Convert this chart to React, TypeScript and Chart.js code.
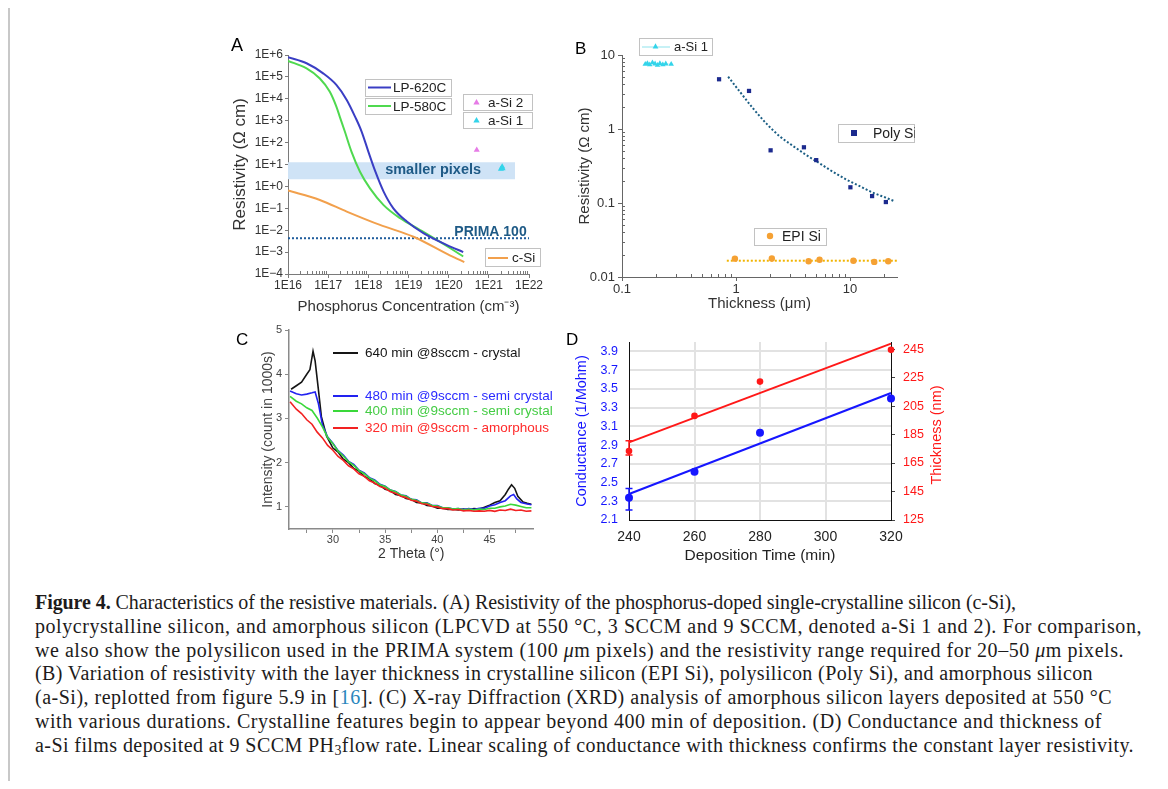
import React, { useEffect, useLayoutEffect, useRef } from 'react';
import { Chart, registerables } from 'chart.js';

Chart.register(...registerables);

const SANS = "'Liberation Sans', Arial, Helvetica, sans-serif";
const SERIF = "'Liberation Serif', 'Times New Roman', serif";
Chart.defaults.font.family = SANS;

// ---------------- Panel A : resistivity vs phosphorus concentration ----------------
const A_X_TICKS = [1e16, 1e17, 1e18, 1e19, 1e20, 1e21, 1e22];
const A_X_LABELS = ['1E16', '1E17', '1E18', '1E19', '1E20', '1E21', '1E22'];
const A_Y_TICKS = [1e-4, 1e-3, 1e-2, 1e-1, 1e0, 1e1, 1e2, 1e3, 1e4, 1e5, 1e6];
const A_Y_LABELS = ['1E\u22124', '1E\u22123', '1E\u22122', '1E\u22121', '1E+0', '1E+1', '1E+2', '1E+3', '1E+4', '1E+5', '1E+6'];
const LP620_CONC = [1.0e16, 2.9e16, 7.5e16, 1.6e17, 2.9e17, 4.7e17, 6.8e17, 1.0e18, 1.5e18, 2.4e18, 4.2e18, 9.1e18, 2.4e19, 9.1e19, 2.3e20];
const LP620_RES = [7.9e5, 4.2e5, 1.45e5, 4.3e4, 8.9e3, 1.5e3, 3.2e2, 39, 4.7, 0.58, 0.1, 0.025, 7.2e-3, 2.1e-3, 1.0e-3];
const LP580_CONC = [1.0e16, 2.9e16, 6.2e16, 1.1e17, 1.6e17, 1.95e17, 2.6e17, 3.8e17, 6.2e17, 1.1e18, 2.4e18, 6.2e18, 1.95e19, 1.1e20, 2.3e20];
const LP580_RES = [5.4e5, 2.45e5, 8.5e4, 2.1e4, 4.4e3, 1.5e3, 3.2e2, 39, 4.7, 0.81, 0.14, 0.035, 0.0102, 1.5e-3, 6.3e-4];
const CSI_CONC = [1e16, 6.2e16, 2.9e17, 1.95e18, 1.33e19, 1.1e20, 2.45e20];
const CSI_RES = [0.65, 0.24, 0.071, 0.0174, 5.0e-3, 6.9e-4, 3.5e-4];
const ASI2_CONC = [5.0e20];
const ASI2_RES = [46];
const ASI1_CONC = [2.0e21, 2.1e21, 2.15e21, 2.2e21];
const ASI1_RES = [6.2, 7.0, 7.8, 6.6];
const PRIMA_RES = 4.3e-3;
const SMALL_PIX_RANGE = [2.1, 12.6];
const SMALL_PIX_CONC = [1e16, 4.5e21];

// ---------------- Panel B : resistivity vs thickness ----------------
const B_X_TICKS = [0.1, 1, 10];
const B_X_LABELS = ['0.1', '1', '10'];
const B_Y_TICKS = [0.01, 0.1, 1, 10];
const B_Y_LABELS = ['0.01', '0.1', '1', '10'];
const POLY_THICK = [0.71, 1.3, 2.01, 3.94, 5.05, 10.07, 15.6, 20.6];
const POLY_RES = [4.7, 3.27, 0.515, 0.566, 0.38, 0.163, 0.124, 0.103];
const POLY_FIT_THICK = [0.853, 1.08, 1.41, 1.84, 2.41, 3.16, 4.13, 5.4, 7.05, 9.2, 12.05, 15.7, 20.6, 24.4];
const POLY_FIT_RES = [5.09, 3.19, 1.9, 1.19, 0.8, 0.59, 0.445, 0.344, 0.265, 0.209, 0.17, 0.139, 0.118, 0.106];
const EPI_THICK = [0.977, 2.06, 4.33, 5.4, 10.7, 16.3, 21.6];
const EPI_RES = [0.0177, 0.0178, 0.0163, 0.0171, 0.0166, 0.016, 0.0163];
const EPI_FIT_THICK = [0.83, 25.8];
const EPI_FIT_RES = [0.0166, 0.0166];
const ASI1B_THICK = [0.16, 0.167, 0.175, 0.185, 0.195, 0.205, 0.215, 0.228, 0.242, 0.27];
const ASI1B_RES = [7.5, 7.7, 7.4, 7.9, 7.6, 7.3, 7.7, 7.4, 7.6, 7.5];

// ---------------- Panel C : XRD ----------------
const C_X_TICKS = [27.5, 30, 32.5, 35, 37.5, 40, 42.5, 45, 47.5];
const C_Y_TICKS = [1, 2, 3, 4, 5];
const XRD640_THETA = [26.0, 26.5, 27.0, 27.5, 27.8, 28.1, 28.3, 28.6, 28.9, 29.4, 30.0, 30.5, 31.0, 31.5, 32.0, 32.5, 33.0, 33.5, 34.0, 34.5, 35.0, 35.5, 36.0, 36.5, 37.0, 37.5, 38.0, 38.5, 39.0, 39.5, 40.0, 40.5, 41.0, 41.5, 42.0, 42.5, 43.0, 43.5, 44.0, 44.5, 45.0, 45.5, 46.0, 46.5, 46.8, 47.1, 47.4, 47.7, 48.2, 48.6, 49.0];
const XRD640_INT = [3.66, 3.74, 3.82, 4.0, 4.1, 4.52, 4.3, 3.68, 3.04, 2.6, 2.33, 2.24, 2.08, 2.0, 1.87, 1.81, 1.69, 1.64, 1.53, 1.49, 1.4, 1.37, 1.28, 1.26, 1.19, 1.17, 1.1, 1.09, 1.03, 1.02, 0.97, 0.97, 0.94, 0.95, 0.93, 0.95, 0.93, 0.96, 0.95, 0.99, 1.04, 1.1, 1.14, 1.28, 1.4, 1.5, 1.42, 1.24, 1.11, 1.08, 1.06];
const XRD480_THETA = [25.9, 26.5, 27.0, 27.5, 28.0, 28.3, 28.6, 29.0, 29.5, 30.0, 30.5, 31.0, 31.5, 32.0, 32.5, 33.0, 33.5, 34.0, 34.5, 35.0, 35.5, 36.0, 36.5, 37.0, 37.5, 38.0, 38.5, 39.0, 39.5, 40.0, 40.5, 41.0, 41.5, 42.0, 42.5, 43.0, 43.5, 44.0, 44.5, 45.0, 45.5, 46.0, 46.5, 47.0, 47.3, 47.6, 48.0, 48.5, 49.0];
const XRD480_INT = [3.62, 3.56, 3.53, 3.55, 3.58, 3.6, 3.35, 2.85, 2.58, 2.44, 2.27, 2.17, 2.03, 1.96, 1.83, 1.77, 1.66, 1.61, 1.51, 1.47, 1.38, 1.35, 1.27, 1.25, 1.17, 1.16, 1.09, 1.09, 1.03, 1.03, 0.98, 0.98, 0.95, 0.96, 0.94, 0.96, 0.94, 0.97, 0.97, 1.02, 1.05, 1.1, 1.14, 1.25, 1.28, 1.18, 1.1, 1.07, 1.05];
const XRD400_THETA = [25.9, 26.5, 27.0, 27.5, 28.0, 28.5, 29.0, 29.5, 30.0, 30.5, 31.0, 31.5, 32.0, 32.5, 33.0, 33.5, 34.0, 34.5, 35.0, 35.5, 36.0, 36.5, 37.0, 37.5, 38.0, 38.5, 39.0, 39.5, 40.0, 40.5, 41.0, 41.5, 42.0, 42.5, 43.0, 43.5, 44.0, 44.5, 45.0, 45.5, 46.0, 46.5, 47.0, 47.5, 48.0, 48.5, 49.0];
const XRD400_INT = [3.5, 3.39, 3.33, 3.24, 3.18, 3.01, 2.81, 2.57, 2.43, 2.26, 2.15, 2.02, 1.94, 1.82, 1.75, 1.65, 1.59, 1.5, 1.46, 1.38, 1.34, 1.27, 1.24, 1.17, 1.15, 1.09, 1.08, 1.03, 1.02, 0.98, 0.98, 0.95, 0.96, 0.93, 0.95, 0.93, 0.95, 0.94, 0.97, 0.97, 1.0, 1.02, 1.06, 1.04, 1.01, 0.98, 0.98];
const XRD320_THETA = XRD400_THETA;
const XRD320_INT = [3.38, 3.21, 3.11, 2.97, 2.87, 2.69, 2.56, 2.39, 2.28, 2.14, 2.05, 1.93, 1.86, 1.75, 1.69, 1.59, 1.54, 1.46, 1.42, 1.34, 1.31, 1.24, 1.21, 1.15, 1.13, 1.07, 1.06, 1.01, 1.0, 0.96, 0.96, 0.93, 0.94, 0.91, 0.92, 0.9, 0.91, 0.9, 0.92, 0.9, 0.93, 0.92, 0.95, 0.92, 0.93, 0.9, 0.91];

// ---------------- Panel D : conductance / thickness vs deposition time ----------------
const DEP_TIME = [240, 260, 280, 320];
const CONDUCTANCE = [2.337, 2.614, 3.03, 3.396];
const COND_ERR_UP = [0.1, 0, 0, 0];
const COND_ERR_DN = [0.13, 0, 0, 0];
const THICKNESS = [173.4, 198.1, 222.2, 244.5];
const THICK_ERR_UP = [7.2, 0, 0, 0];
const THICK_ERR_DN = [2.8, 0, 0, 0];
const FIT_TIME = [240, 320];
const COND_FIT = [2.377, 3.456];
const THICK_FIT = [179.5, 248.9];
const D_LEFT_TICKS = [2.1, 2.3, 2.5, 2.7, 2.9, 3.1, 3.3, 3.5, 3.7, 3.9];
const D_RIGHT_TICKS = [125, 145, 165, 185, 205, 225, 245];
const D_X_TICKS = [240, 260, 280, 300, 320];

// ---------------- helpers ----------------
const OX = 8;
const OY = 8;
const pts = (xs: number[], ys: number[]) => xs.map((x, i) => ({ x, y: ys[i] }));
const setTicks = (vals: number[]) => (s: any) => { s.ticks = vals.map((v) => ({ value: v })); };
const minorLog = (lo: number, hi: number) => {
  const out: number[] = [];
  for (let e = Math.floor(Math.log10(lo)); e <= Math.ceil(Math.log10(hi)); e++) {
    for (let k = 2; k <= 9; k++) {
      const v = k * Math.pow(10, e);
      if (v > lo && v < hi) out.push(v);
    }
  }
  return out;
};

function drawMinor(chart: any, id: string, values: number[], len: number, color: string) {
  const s = chart.scales[id];
  const ca = chart.chartArea;
  const ctx = chart.ctx;
  ctx.save();
  ctx.strokeStyle = color;
  ctx.lineWidth = 1;
  ctx.beginPath();
  for (const v of values) {
    const p = Math.round(s.getPixelForValue(v)) + 0.5;
    if (s.isHorizontal()) {
      ctx.moveTo(p, ca.bottom);
      ctx.lineTo(p, ca.bottom - len);
    } else {
      ctx.moveTo(ca.left, p);
      ctx.lineTo(ca.left + len, p);
    }
  }
  ctx.stroke();
  ctx.restore();
}

function box(ctx: any, x: number, y: number, w: number, h: number) {
  ctx.fillStyle = '#ffffff';
  ctx.fillRect(x, y, w, h);
  ctx.strokeStyle = '#c2c2c2';
  ctx.lineWidth = 1;
  ctx.strokeRect(Math.round(x) + 0.5, Math.round(y) + 0.5, Math.round(w) - 1, Math.round(h) - 1);
}
function tri(ctx: any, x: number, y: number, r: number, color: string) {
  ctx.fillStyle = color;
  ctx.beginPath();
  ctx.moveTo(x, y - r);
  ctx.lineTo(x + r * 0.9, y + r * 0.6);
  ctx.lineTo(x - r * 0.9, y + r * 0.6);
  ctx.closePath();
  ctx.fill();
}
function seg(ctx: any, x1: number, x2: number, y: number, color: string, w: number) {
  ctx.strokeStyle = color;
  ctx.lineWidth = w;
  ctx.beginPath();
  ctx.moveTo(x1, y);
  ctx.lineTo(x2, y);
  ctx.stroke();
}
function txt(ctx: any, s: string, x: number, y: number, font: string, color: string, align = 'left') {
  ctx.font = font;
  ctx.fillStyle = color;
  ctx.textAlign = align;
  ctx.textBaseline = 'middle';
  ctx.fillText(s, x, y);
}

const baseOptions = {
  responsive: false,
  animation: false,
  events: [],
  plugins: { legend: { display: false }, tooltip: { enabled: false } },
};

// ---------------- configs ----------------
function configA(): any {
  const axisCol = '#7a7a7a';
  return {
    type: 'line',
    data: {
      datasets: [
        { data: pts(SMALL_PIX_CONC, [SMALL_PIX_RANGE[1], SMALL_PIX_RANGE[1]]), borderWidth: 0, pointRadius: 0, fill: { value: SMALL_PIX_RANGE[0] }, backgroundColor: '#cfe3f6', order: 10 },
        { data: pts([1e16, 1e22], [PRIMA_RES, PRIMA_RES]), borderColor: '#1f5c9c', borderWidth: 2, borderDash: [2, 2], pointRadius: 0, order: 6 },
        { data: pts(CSI_CONC, CSI_RES), borderColor: '#f2a04c', borderWidth: 2, pointRadius: 0, cubicInterpolationMode: 'monotone', order: 3 },
        { data: pts(LP580_CONC, LP580_RES), borderColor: '#4fd94f', borderWidth: 2, pointRadius: 0, cubicInterpolationMode: 'monotone', order: 2 },
        { data: pts(LP620_CONC, LP620_RES), borderColor: '#3a3ec4', borderWidth: 2, pointRadius: 0, cubicInterpolationMode: 'monotone', order: 1 },
        { data: pts(ASI2_CONC, ASI2_RES), showLine: false, pointStyle: 'triangle', pointRadius: 3.5, backgroundColor: '#e67be6', borderColor: '#e67be6', borderWidth: 0, order: 0 },
        { data: pts(ASI1_CONC, ASI1_RES), showLine: false, pointStyle: 'triangle', pointRadius: 3.5, backgroundColor: '#33d4ea', borderColor: '#33d4ea', borderWidth: 0, order: 0 },
      ],
    },
    options: {
      ...baseOptions,
      layout: { padding: { top: 20, right: 16, left: 0, bottom: 0 } },
      scales: {
        x: {
          type: 'logarithmic', min: 1e16, max: 1e22,
          afterFit: (s: any) => { s.height = 46; },
          afterBuildTicks: setTicks(A_X_TICKS),
          ticks: { callback: (_v: any, i: number) => A_X_LABELS[i], color: '#333', font: { size: 12 }, padding: 0, maxRotation: 0, autoSkip: false },
          grid: { drawOnChartArea: false, tickLength: 4, color: axisCol },
          border: { color: axisCol },
          title: { display: true, text: 'Phosphorus Concentration (cm\u207B\u00B3)', font: { size: 15 }, color: '#333', padding: { top: 0, bottom: 4 } },
        },
        y: {
          type: 'logarithmic', min: 1e-4, max: 1e6,
          afterFit: (s: any) => { s.width = 63; },
          afterBuildTicks: setTicks(A_Y_TICKS),
          ticks: { callback: (_v: any, i: number) => A_Y_LABELS[i], color: '#333', font: { size: 12 }, padding: 2, autoSkip: false },
          grid: { drawOnChartArea: false, tickLength: 3, color: axisCol },
          border: { color: axisCol },
          title: { display: true, text: 'Resistivity (\u03A9 cm)', font: { size: 17 }, color: '#333', padding: { top: 4.8, bottom: 0 } },
        },
      },
    },
    plugins: [{
      id: 'extrasA',
      afterDatasetsDraw(chart: any) {
        const ctx = chart.ctx;
        const xs = chart.scales.x;
        const ys = chart.scales.y;
        ctx.save();
        drawMinor(chart, 'x', minorLog(1e16, 1e22), 3, '#7a7a7a');
        txt(ctx, 'smaller pixels', xs.getPixelForValue(4.1e19), ys.getPixelForValue(5.6), `bold 14.5px ${SANS}`, '#1e5a86', 'center');
        txt(ctx, 'PRIMA 100', xs.getPixelForValue(1.1e21), ys.getPixelForValue(8e-3), `bold 14px ${SANS}`, '#1e5a86', 'center');
        const f = `13.5px ${SANS}`;
        box(ctx, 140, 44, 87, 18);
        seg(ctx, 143, 166, 52.5, '#3a3ec4', 2);
        txt(ctx, 'LP-620C', 168, 53.5, f, '#222');
        box(ctx, 140, 63, 87, 17);
        seg(ctx, 143, 166, 71, '#4fd94f', 2);
        txt(ctx, 'LP-580C', 168, 72, f, '#222');
        box(ctx, 238, 59, 70, 17);
        tri(ctx, 251.5, 67.5, 3.5, '#e67be6');
        txt(ctx, 'a-Si 2', 263, 68, f, '#222');
        box(ctx, 238, 77, 70, 17);
        tri(ctx, 251.5, 85.5, 3.5, '#33d4ea');
        txt(ctx, 'a-Si 1', 263, 86, f, '#222');
        box(ctx, 260, 213, 56, 19);
        seg(ctx, 263, 283, 223, '#f2a04c', 2);
        txt(ctx, 'c-Si', 287, 223, f, '#222');
        ctx.restore();
      },
    }],
  };
}

function configB(): any {
  const axisCol = '#666';
  return {
    type: 'line',
    data: {
      datasets: [
        { data: pts(POLY_FIT_THICK, POLY_FIT_RES), borderColor: '#1b5e84', borderWidth: 2, borderDash: [2, 2], pointRadius: 0, cubicInterpolationMode: 'monotone', order: 5, clip: false },
        { data: pts(EPI_FIT_THICK, EPI_FIT_RES), borderColor: '#f1b400', borderWidth: 2, borderDash: [2, 2], pointRadius: 0, order: 5, clip: false },
        { data: pts(POLY_THICK, POLY_RES), showLine: false, pointStyle: 'rect', pointRadius: 3, backgroundColor: '#1c2a8e', borderColor: '#1c2a8e', borderWidth: 0, order: 1, clip: false },
        { data: pts(EPI_THICK, EPI_RES), showLine: false, pointStyle: 'circle', pointRadius: 3.2, backgroundColor: '#f5a133', borderColor: '#f5a133', borderWidth: 0, order: 1, clip: false },
        { data: pts(ASI1B_THICK, ASI1B_RES), borderColor: '#8fe3ec', borderWidth: 1, borderDash: [2, 1], pointStyle: 'triangle', pointRadius: 3.2, backgroundColor: '#33d4ea', pointBorderColor: '#33d4ea', pointBorderWidth: 0, order: 1, clip: false },
      ],
    },
    options: {
      ...baseOptions,
      layout: { padding: { top: 25, right: 18, left: 0, bottom: 0 } },
      scales: {
        x: {
          type: 'logarithmic', min: 0.1, max: 25.8,
          afterFit: (s: any) => { s.height = 38; },
          afterBuildTicks: setTicks(B_X_TICKS),
          ticks: { callback: (_v: any, i: number) => B_X_LABELS[i], color: '#333', font: { size: 13 }, padding: 1, maxRotation: 0, autoSkip: false },
          grid: { drawOnChartArea: false, tickLength: 4, color: axisCol },
          border: { color: axisCol },
          title: { display: true, text: 'Thickness (\u03BCm)', font: { size: 15 }, color: '#333', padding: { top: 0, bottom: 2.5 } },
        },
        y: {
          type: 'logarithmic', min: 0.01, max: 10,
          afterFit: (s: any) => { s.width = 62; },
          afterBuildTicks: setTicks(B_Y_TICKS),
          ticks: { callback: (_v: any, i: number) => B_Y_LABELS[i], color: '#333', font: { size: 13 }, padding: 3, autoSkip: false },
          grid: { drawOnChartArea: false, tickLength: 4, color: axisCol },
          border: { color: axisCol },
          title: { display: true, text: 'Resistivity (\u03A9 cm)', font: { size: 15 }, color: '#333', padding: { top: 16, bottom: 0 } },
        },
      },
    },
    plugins: [{
      id: 'extrasB',
      afterDatasetsDraw(chart: any) {
        const ctx = chart.ctx;
        ctx.save();
        drawMinor(chart, 'x', minorLog(0.1, 25.8), 3, '#666');
        drawMinor(chart, 'y', minorLog(0.01, 10), 3, '#666');
        const f = `14px ${SANS}`;
        box(ctx, 79, 8, 74, 18);
        seg(ctx, 82, 110, 17, '#8fe3ec', 1);
        tri(ctx, 95.5, 16.5, 3.2, '#33d4ea');
        txt(ctx, 'a-Si 1', 114, 17.5, `13px ${SANS}`, '#222');
        box(ctx, 278, 94, 77, 19);
        ctx.fillStyle = '#1c2a8e';
        ctx.fillRect(291, 100, 6, 6);
        txt(ctx, 'Poly Si', 313, 104, f, '#222');
        box(ctx, 194, 198, 73, 18);
        ctx.fillStyle = '#f5a133';
        ctx.beginPath();
        ctx.arc(210, 206, 3.2, 0, Math.PI * 2);
        ctx.fill();
        txt(ctx, 'EPI Si', 222, 207, f, '#222');
        ctx.restore();
      },
    }],
  };
}

function configC(): any {
  const axisCol = '#8a8a8a';
  const line = (xs: number[], ys: number[], color: string, order: number) => ({
    data: pts(xs, ys), borderColor: color, borderWidth: 1.6, pointRadius: 0, order, tension: 0,
  });
  return {
    type: 'line',
    data: {
      datasets: [
        line(XRD640_THETA, XRD640_INT, '#151515', 3),
        line(XRD480_THETA, XRD480_INT, '#2222f0', 2),
        line(XRD400_THETA, XRD400_INT, '#3ad83a', 1),
        line(XRD320_THETA, XRD320_INT, '#f22222', 0),
      ],
    },
    options: {
      ...baseOptions,
      layout: { padding: { top: 10, right: 26.5, left: 0, bottom: 0 } },
      scales: {
        x: {
          type: 'linear', min: 25.8, max: 49.2,
          afterFit: (s: any) => { s.height = 36; },
          afterBuildTicks: setTicks(C_X_TICKS),
          ticks: { callback: (v: number) => (v % 5 === 0 ? String(v) : ''), color: '#444', font: { size: 11 }, padding: 0, maxRotation: 0, autoSkip: false },
          grid: { drawOnChartArea: false, tickLength: 4, color: axisCol },
          border: { color: axisCol, width: 1.5 },
          title: { display: true, text: '2 Theta (\u00B0)', font: { size: 14 }, color: '#333', padding: { top: 0, bottom: 2.6 } },
        },
        y: {
          type: 'linear', min: 0.5, max: 5,
          afterFit: (s: any) => { s.width = 59; },
          afterBuildTicks: setTicks(C_Y_TICKS),
          ticks: { callback: (v: number) => String(v), color: '#444', font: { size: 11 }, padding: 3, autoSkip: false },
          grid: { drawOnChartArea: false, tickLength: 4, color: axisCol },
          border: { color: axisCol, width: 1.5 },
          title: { display: true, text: 'Intensity (count in 1000s)', font: { size: 14 }, color: '#444', padding: { top: 29.6, bottom: 0 } },
        },
      },
    },
    plugins: [{
      id: 'extrasC',
      afterDatasetsDraw(chart: any) {
        const ctx = chart.ctx;
        ctx.save();
        const f = `13.5px ${SANS}`;
        const items = [
          { y: 33, c: '#151515', tc: '#151515', t: '640 min @8sccm - crystal' },
          { y: 76, c: '#2222f0', tc: '#2a2aff', t: '480 min @9sccm - semi crystal' },
          { y: 91, c: '#3ad83a', tc: '#44cc44', t: '400 min @9sccm - semi crystal' },
          { y: 108, c: '#f22222', tc: '#ff2a2a', t: '320 min @9sccm - amorphous' },
        ];
        for (const it of items) {
          seg(ctx, 103, 128, it.y, it.c, 2);
          txt(ctx, it.t, 135, it.y + 0.5, f, it.tc);
        }
        ctx.restore();
      },
    }],
  };
}

function configD(): any {
  const blue = '#1616ff';
  const red = '#ff1818';
  const gridCol = '#e2e2e2';
  return {
    type: 'line',
    data: {
      datasets: [
        { data: pts(FIT_TIME, COND_FIT), yAxisID: 'y', borderColor: blue, borderWidth: 2, pointRadius: 0, order: 3, clip: false },
        { data: pts(FIT_TIME, THICK_FIT), yAxisID: 'y1', borderColor: red, borderWidth: 2, pointRadius: 0, order: 3, clip: false },
        { data: pts(DEP_TIME, CONDUCTANCE), yAxisID: 'y', showLine: false, pointRadius: 4, backgroundColor: blue, borderColor: blue, borderWidth: 0, order: 1, clip: false },
        { data: pts(DEP_TIME, THICKNESS), yAxisID: 'y1', showLine: false, pointRadius: 3.3, backgroundColor: red, borderColor: red, borderWidth: 0, order: 1, clip: false },
      ],
    },
    options: {
      ...baseOptions,
      layout: { padding: { top: 22, right: 0, left: 0, bottom: 0 } },
      scales: {
        x: {
          type: 'linear', min: 240, max: 320,
          afterFit: (s: any) => { s.height = 50; },
          afterBuildTicks: setTicks(D_X_TICKS),
          ticks: { callback: (v: number) => String(v), color: '#222', font: { size: 14 }, padding: 9, maxRotation: 0, autoSkip: false },
          grid: { drawTicks: false, lineWidth: 2, color: (c: any) => (c.tick && (c.tick.value === 240 || c.tick.value === 320) ? 'rgba(0,0,0,0)' : gridCol) },
          border: { color: '#111', width: 1 },
          title: { display: true, text: 'Deposition Time (min)', font: { size: 15.5 }, color: '#222', padding: { top: 0, bottom: 4.7 } },
        },
        y: {
          type: 'linear', position: 'left', min: 2.1, max: 4.0,
          afterFit: (s: any) => { s.width = 64; },
          afterBuildTicks: setTicks(D_LEFT_TICKS),
          ticks: { callback: (v: number) => v.toFixed(1), color: blue, font: { size: 12.5 }, padding: 11, autoSkip: false },
          grid: { drawTicks: false, lineWidth: 2, color: (c: any) => (c.tick && c.tick.value === 2.1 ? 'rgba(0,0,0,0)' : gridCol) },
          border: { color: '#111', width: 1 },
          title: { display: true, text: 'Conductance (1/Mohm)', font: { size: 14.5 }, color: blue, padding: { top: 8, bottom: 0 } },
        },
        y1: {
          type: 'linear', position: 'right', min: 125, max: 250,
          afterFit: (s: any) => { s.width = 59; },
          afterBuildTicks: setTicks(D_RIGHT_TICKS),
          ticks: { callback: (v: number) => String(v), color: red, font: { size: 12.5 }, padding: 8, autoSkip: false },
          grid: { drawOnChartArea: false, tickLength: 4, color: '#444' },
          border: { color: '#111', width: 1 },
        },
      },
    },
    plugins: [{
      id: 'extrasD',
      afterDatasetsDraw(chart: any) {
        const ctx = chart.ctx;
        const xs = chart.scales.x;
        ctx.save();
        const err = (ys: any, vals: number[], up: number[], dn: number[], color: string) => {
          ctx.strokeStyle = color;
          ctx.lineWidth = 1.5;
          vals.forEach((v, i) => {
            if (!up[i] && !dn[i]) return;
            const x = xs.getPixelForValue(DEP_TIME[i]);
            const y1 = ys.getPixelForValue(v + up[i]);
            const y2 = ys.getPixelForValue(v - dn[i]);
            ctx.beginPath();
            ctx.moveTo(x, y1); ctx.lineTo(x, y2);
            ctx.moveTo(x - 3.5, y1); ctx.lineTo(x + 3.5, y1);
            ctx.moveTo(x - 3.5, y2); ctx.lineTo(x + 3.5, y2);
            ctx.stroke();
          });
        };
        err(chart.scales.y, CONDUCTANCE, COND_ERR_UP, COND_ERR_DN, blue);
        err(chart.scales.y1, THICKNESS, THICK_ERR_UP, THICK_ERR_DN, red);
        ctx.translate(371.5, 115);
        ctx.rotate(-Math.PI / 2);
        txt(ctx, 'Thickness (nm)', 0, 0, `14.5px ${SANS}`, red, 'center');
        ctx.restore();
      },
    }],
  };
}

// ---------------- components ----------------
function ChartBox({ left, top, width, height, make }: { left: number; top: number; width: number; height: number; make: () => any }) {
  const ref = useRef<HTMLCanvasElement>(null);
  useEffect(() => {
    const chart = new Chart(ref.current as HTMLCanvasElement, make());
    return () => chart.destroy();
  }, []);
  return (
    <canvas
      ref={ref}
      width={width}
      height={height}
      style={{ position: 'absolute', left: left - OX, top: top - OY, width, height }}
    />
  );
}

const CAPTION_LEFT = 35;
const CAPTION_LINE_ENDS = [1016, 1142, 1124, 1093, 1112, 1102, 1134];
const mu = <i>{'\u03BC'}</i>;
const CAPTION_LINES: React.ReactNode[] = [
  <><b>Figure 4.</b> Characteristics of the resistive materials. (A) Resistivity of the phosphorus-doped single-crystalline silicon (c-Si),</>,
  <>polycrystalline silicon, and amorphous silicon (LPCVD at 550 {'\u00B0'}C, 3 SCCM and 9 SCCM, denoted a-Si 1 and 2). For comparison,</>,
  <>we also show the polysilicon used in the PRIMA system (100 {mu}m pixels) and the resistivity range required for 20{'\u2013'}50 {mu}m pixels.</>,
  <>(B) Variation of resistivity with the layer thickness in crystalline silicon (EPI Si), polysilicon (Poly Si), and amorphous silicon</>,
  <>(a-Si), replotted from figure 5.9 in [<span style={{ color: '#2a86bd' }}>16</span>]. (C) X-ray Diffraction (XRD) analysis of amorphous silicon layers deposited at 550 {'\u00B0'}C</>,
  <>with various durations. Crystalline features begin to appear beyond 400 min of deposition. (D) Conductance and thickness of</>,
  <>a-Si films deposited at 9 SCCM PH<sub style={{ fontSize: '0.7em', verticalAlign: 'baseline', position: 'relative', top: '0.25em' }}>3</sub>flow rate. Linear scaling of conductance with thickness confirms the constant layer resistivity.</>,
];

function Caption() {
  const refs = useRef<(HTMLSpanElement | null)[]>([]);
  useLayoutEffect(() => {
    refs.current.forEach((el, i) => {
      if (!el) return;
      el.style.letterSpacing = '0px';
      const w = el.getBoundingClientRect().width;
      const target = CAPTION_LINE_ENDS[i] - CAPTION_LEFT;
      const chars = (el.textContent || '').length;
      if (chars > 0) el.style.letterSpacing = `${(target - w) / chars}px`;
    });
  }, []);
  return (
    <div
      style={{
        position: 'absolute', left: CAPTION_LEFT - OX, top: 591 - OY,
        fontFamily: SERIF, fontSize: 20, lineHeight: '23.8px', color: '#1d1b1b',
      }}
    >
      {CAPTION_LINES.map((l, i) => (
        <div key={i} style={{ whiteSpace: 'nowrap', height: 23.8 }}>
          <span ref={(el) => { refs.current[i] = el; }}>{l}</span>
        </div>
      ))}
    </div>
  );
}

function PanelLabel({ x, y, text, size }: { x: number; y: number; text: string; size: number }) {
  return (
    <div style={{ position: 'absolute', left: x - OX, top: y - OY, fontFamily: SANS, fontSize: size, lineHeight: `${size}px`, color: '#000' }}>
      {text}
    </div>
  );
}

export default function App() {
  useEffect(() => {
    document.documentElement.style.overflow = 'hidden';
    document.body.style.overflow = 'hidden';
  }, []);
  return (
    <div style={{ position: 'relative', width: 1152, height: 773 }}>
      <div
        style={{
          position: 'absolute', left: 0, top: -2, width: 1158, height: 800, boxSizing: 'border-box',
          borderTop: '2px solid #9a9a9a', borderLeft: '2px solid #c8c8c8', borderRight: '2px solid #c8c8c8',
        }}
      />
      <ChartBox left={225} top={35} width={320} height={285} make={configA} />
      <ChartBox left={560} top={30} width={355} height={285} make={configB} />
      <ChartBox left={230} top={320} width={330} height={245} make={configC} />
      <ChartBox left={565} top={320} width={385} height={250} make={configD} />
      <PanelLabel x={231} y={36} text="A" size={18} />
      <PanelLabel x={575} y={40} text="B" size={17} />
      <PanelLabel x={236} y={331} text="C" size={17} />
      <PanelLabel x={566} y={331} text="D" size={17} />
      <Caption />
    </div>
  );
}
